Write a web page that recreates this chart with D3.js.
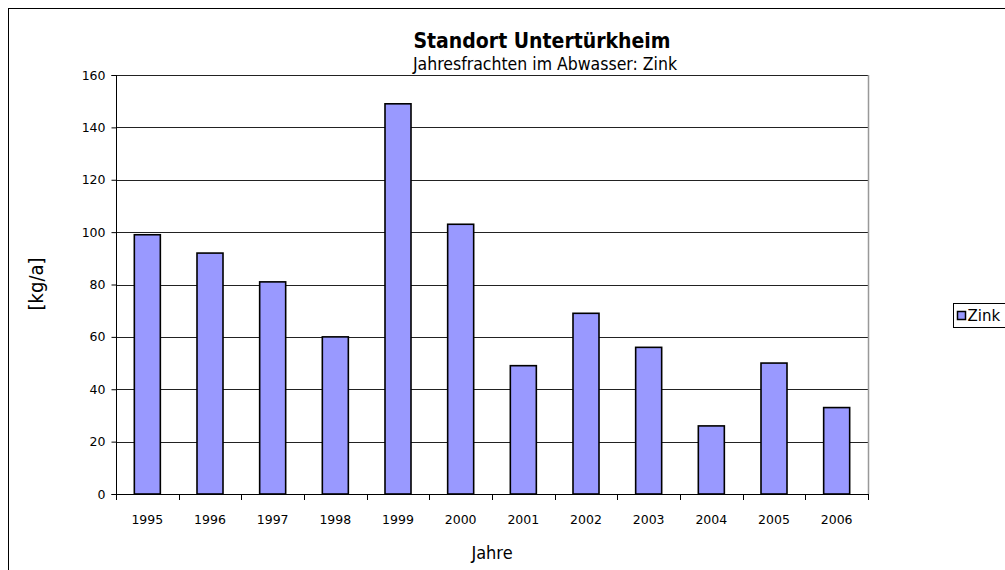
<!DOCTYPE html>
<html>
<head>
<meta charset="utf-8">
<script src="https://cdn.jsdelivr.net/npm/d3@7"></script>
<style>
	body { margin: 0; background: #fff; }
	text { font-family: "DejaVu Sans", sans-serif; fill: #000; }
	.cond { font-family: "DejaVu Sans Condensed", "DejaVu Sans", sans-serif; }
</style>
</head>
<body>
<div id="chart"></div>
<script>
var years = ["1995", "1996", "1997", "1998", "1999", "2000", "2001", "2002", "2003", "2004", "2005", "2006"];
var zink = [99, 92, 81, 60, 149, 103, 49, 69, 56, 26, 50, 33];
var yTicks = [0, 20, 40, 60, 80, 100, 120, 140, 160];

var width = 1005;
var height = 570;
var plot = {left: 116, right: 868, top: 75, bottom: 494};

var svg = d3.select("#chart").append("svg")
	.attr("width", width)
	.attr("height", height);

// Rahmen
svg.append("rect")
	.attr("x", 8.5)
	.attr("y", 8.5)
	.attr("width", 1010)
	.attr("height", 580)
	.attr("fill", "none")
	.attr("stroke", "#000")
	.attr("stroke-width", 1);

var x = d3.scaleBand()
	.domain(years)
	.range([plot.left, plot.right])
	.paddingInner(0.585)
	.paddingOuter(0.2925);

var xb = d3.scaleBand()
	.domain(years)
	.range([plot.left, plot.right]);

var y = d3.scaleLinear()
	.domain([0, 160])
	.range([plot.bottom, plot.top]);

// Gitterlinien
svg.append("g").selectAll("line")
	.data(yTicks.filter(function(d){ return d > 0; }))
	.enter()
	.append("line")
	.attr("x1", plot.left)
	.attr("x2", plot.right)
	.attr("y1", function(d){ return Math.round(y(d)) + 0.5; })
	.attr("y2", function(d){ return Math.round(y(d)) + 0.5; })
	.attr("stroke", "#222")
	.attr("stroke-width", 1);

// rechte Kante
svg.append("line")
	.attr("x1", plot.right + 0.5)
	.attr("x2", plot.right + 0.5)
	.attr("y1", plot.top)
	.attr("y2", plot.bottom)
	.attr("stroke", "#999")
	.attr("stroke-width", 1.5);

// Balken
svg.append("g").selectAll("rect")
	.data(zink)
	.enter()
	.append("rect")
	.attr("x", function(d, i){ return x(years[i]); })
	.attr("y", function(d){ return y(d); })
	.attr("width", x.bandwidth())
	.attr("height", function(d){ return plot.bottom - y(d); })
	.attr("fill", "#9999ff")
	.attr("stroke", "#000")
	.attr("stroke-width", 1.6);

// Y-Achse
var yAxis = d3.axisLeft(y)
	.tickValues(yTicks)
	.tickSize(5)
	.tickPadding(6);
var gy = svg.append("g")
	.attr("transform", "translate(" + (plot.left + 0.5) + ",0)")
	.call(yAxis);
gy.select(".domain").attr("stroke", "#000").attr("d", "M-5," + (plot.top + 0.5) + "H0V" + (plot.bottom + 0.5) + "H-5");
gy.selectAll(".tick line").attr("stroke", "#000");
gy.selectAll(".tick text")
	.style("font-family", "'DejaVu Sans', sans-serif")
	.style("font-size", "12.5px")
	.attr("fill", "#000");

// X-Achse
svg.append("line")
	.attr("x1", plot.left)
	.attr("x2", plot.right)
	.attr("y1", plot.bottom + 0.5)
	.attr("y2", plot.bottom + 0.5)
	.attr("stroke", "#000");

svg.append("g").selectAll("line")
	.data(years.concat(["end"]))
	.enter()
	.append("line")
	.attr("x1", function(d, i){ return Math.round(i < years.length ? xb(d) : plot.right) + 0.5; })
	.attr("x2", function(d, i){ return Math.round(i < years.length ? xb(d) : plot.right) + 0.5; })
	.attr("y1", plot.bottom)
	.attr("y2", plot.bottom + 6)
	.attr("stroke", "#000");

svg.append("g").selectAll("text")
	.data(years)
	.enter()
	.append("text")
	.attr("x", function(d){ return xb(d) + xb.bandwidth() / 2; })
	.attr("y", 524)
	.attr("text-anchor", "middle")
	.style("font-size", "12.5px")
	.text(function(d){ return d; });

// Titel
svg.append("text")
	.classed("cond", true)
	.attr("x", 542)
	.attr("y", 48)
	.attr("text-anchor", "middle")
	.style("font-size", "21px")
	.style("font-weight", "bold")
	.text("Standort Untertürkheim");

svg.append("text")
	.classed("cond", true)
	.attr("x", 545)
	.attr("y", 70)
	.attr("text-anchor", "middle")
	.style("font-size", "17.5px")
	.text("Jahresfrachten im Abwasser: Zink");

// Achsentitel
svg.append("text")
	.classed("cond", true)
	.attr("x", 492)
	.attr("y", 559)
	.attr("text-anchor", "middle")
	.style("font-size", "18px")
	.text("Jahre");

svg.append("text")
	.classed("cond", true)
	.attr("transform", "translate(43,284) rotate(-90)")
	.attr("text-anchor", "middle")
	.style("font-size", "20px")
	.text("[kg/a]");

// Legende
var legend = svg.append("g").attr("transform", "translate(953,303)");
legend.append("rect")
	.attr("x", 0.5)
	.attr("y", 0.5)
	.attr("width", 60)
	.attr("height", 24)
	.attr("fill", "#fff")
	.attr("stroke", "#000");
legend.append("rect")
	.attr("x", 4.5)
	.attr("y", 8.5)
	.attr("width", 8)
	.attr("height", 8)
	.attr("fill", "#9999ff")
	.attr("stroke", "#000")
	.attr("stroke-width", 1.5);
legend.append("text")
	.attr("x", 14.5)
	.attr("y", 18)
	.style("font-size", "15px")
	.text("Zink");
</script>
</body>
</html>
